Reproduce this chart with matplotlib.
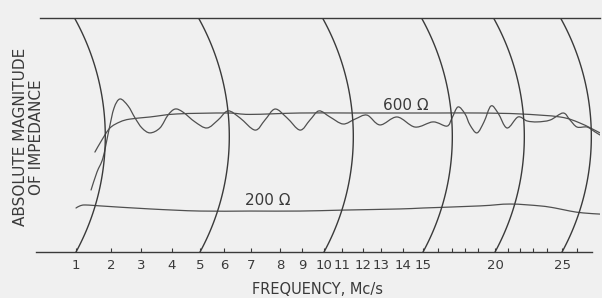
import matplotlib.pyplot as plt
import numpy as np
from matplotlib.patches import PathPatch
from matplotlib.path import Path

# sweep dial of the recorder: frequency (Mc/s) -> position along the chart (dial units)
dial_freq = np.array([-1, 1, 2, 3, 4, 5, 6, 7, 8, 9, 10, 11, 12, 13, 14, 15,
                      16, 17, 18, 19, 20, 21, 22, 23, 24, 25, 26, 27, 30])
dial_pos = np.array([6, 76, 111, 141, 172, 200, 224, 251, 280, 302, 324, 342, 363, 381, 403, 423,
                     438, 452, 465, 478, 495, 508, 520, 533, 547, 562, 577, 592, 637], dtype=float)

major_ticks = [1, 2, 3, 4, 5, 6, 7, 8, 9, 10, 11, 12, 13, 14, 15, 20, 25]
minor_ticks = [16, 17, 18, 19, 21, 22, 23, 24, 26]
arc_freqs = [1, 5, 10, 15, 20, 25]

# 600 ohm termination, measured trace
z600_freq = [1.43, 1.6, 1.77, 1.94, 2.1, 2.3, 2.57, 2.8, 3.03, 3.29, 3.61, 3.87, 4.11, 4.39,
             4.82, 5.29, 5.75, 6.15, 6.59, 7.14, 7.48, 7.83, 8.32, 8.91, 9.36, 9.77, 10.33,
             11.05, 11.62, 12.22, 12.94, 13.73, 14.6, 15.67, 16.64, 17.0, 17.46, 18.0, 18.38,
             18.92, 19.35, 19.76, 20.23, 20.92, 21.83, 22.54, 23.31, 24.21, 25.07, 25.53,
             26.0, 26.67, 27.2, 27.53]
z600_ohm = [265, 342, 402, 521, 615, 654, 624, 573, 530, 509, 530, 585, 611, 598,
            556, 530, 564, 603, 573, 521, 564, 611, 573, 521, 564, 603, 577,
            547, 568, 585, 543, 577, 534, 556, 538, 573, 620, 590, 543,
            509, 556, 624, 594, 530, 577, 560, 556, 564, 594, 564,
            534, 534, 513, 500]

# 600 ohm reference line
ref600_freq = [1.54, 1.74, 1.97, 2.3, 2.63, 3.29, 4.18, 6.11, 6.96, 8.91, 11.38, 13.86,
               16.13, 19.12, 22.0, 24.87, 26.2, 27.53]
ref600_ohm = [427, 479, 530, 556, 568, 577, 590, 594, 588, 594, 594, 594,
              594, 594, 590, 577, 551, 509]

# 200 ohm termination
z200_freq = [1.0, 1.11, 1.26, 1.69, 3.29, 5.0, 6.96, 8.91, 11.0, 13.86, 15.0, 19.12,
             21.17, 23.5, 24.53, 25.53, 26.4, 27.53]
z200_ohm = [188, 197, 201, 197, 184, 175, 175, 175, 179, 184, 188, 197,
            205, 197, 188, 175, 167, 162]


def to_dial(f):
    return np.interp(f, dial_freq, dial_pos)


def from_dial(p):
    return np.interp(p, dial_pos, dial_freq)


def pen_trace(freq, ohm):
    # smooth pen stroke through the read points (Catmull-Rom as cubic Bezier, in dial units)
    pts = np.column_stack([to_dial(np.asarray(freq, float)), np.asarray(ohm, float)])
    ext = np.vstack([pts[0], pts, pts[-1]])
    verts = [pts[0]]
    for i in range(1, len(ext) - 2):
        p0, p1, p2, p3 = ext[i - 1], ext[i], ext[i + 1], ext[i + 2]
        verts += [p1 + (p2 - p0) / 6, p2 - (p3 - p1) / 6, p2]
    verts = np.array(verts)
    verts[:, 0] = from_dial(verts[:, 0])
    codes = [Path.MOVETO] + [Path.CURVE4] * (len(verts) - 1)
    return Path(verts, codes)


bg = "#f0f0f0"
ink = "#3a3a3a"
trace = "#505050"

fig = plt.figure(figsize=(6.02, 2.98), dpi=100, facecolor=bg)
ax = fig.add_axes([36 / 602, 46 / 298, 564 / 602, 234 / 298], facecolor=bg)
ax.set_xscale("function", functions=(to_dial, from_dial))
ax.set_xlim(-0.143, 27.53)
ax.set_ylim(0, 1000)

# curved arcs swept by the pen arm
chart_height = 234.0
arm_radius = 243.0
arc_ohm = np.linspace(0, 1000, 80)
d = (arc_ohm - 500) * chart_height / 1000
bulge = np.sqrt(arm_radius ** 2 - d ** 2) - np.sqrt(arm_radius ** 2 - (chart_height / 2) ** 2)
for f in arc_freqs:
    ax.plot(from_dial(to_dial(f) + bulge - 1.5 * arc_ohm / 1000), arc_ohm,
            color=ink, lw=1.0)

for xs, ys in [(ref600_freq, ref600_ohm), (z600_freq, z600_ohm), (z200_freq, z200_ohm)]:
    ax.add_patch(PathPatch(pen_trace(xs, ys), fill=False, edgecolor=trace, lw=0.9,
                           joinstyle="round", capstyle="round"))

ax.text(14.15, 628, "600 \u03a9", fontsize=11, color=ink, ha="center", va="center")
ax.text(7.59, 218, "200 \u03a9", fontsize=11, color=ink, ha="center", va="center")

for side in ("left", "right"):
    ax.spines[side].set_visible(False)
ax.spines["bottom"].set_bounds(-0.143, 27.0)
ax.spines["top"].set_bounds(-0.03, 27.53)
for side in ("top", "bottom"):
    ax.spines[side].set_color(ink)
    ax.spines[side].set_linewidth(1.0)

ax.set_yticks([])
ax.set_xticks(major_ticks)
ax.set_xticklabels([str(t) for t in major_ticks])
ax.set_xticks(minor_ticks, minor=True)
ax.tick_params(axis="x", which="both", direction="in", length=3, width=0.8,
               color=ink, labelsize=9.5, labelcolor=ink, pad=5)

ax.set_xlabel("FREQUENCY, Mc/s", fontsize=10.5, color=ink, labelpad=7)
ax.set_ylabel("ABSOLUTE MAGNITUDE\nOF IMPEDANCE", fontsize=11, color=ink,
              linespacing=1.05, ha="center", va="center")
ax.yaxis.set_label_coords(-7.5 / 564, 0.49)

fig.savefig("out.png", dpi=100, facecolor=bg)
